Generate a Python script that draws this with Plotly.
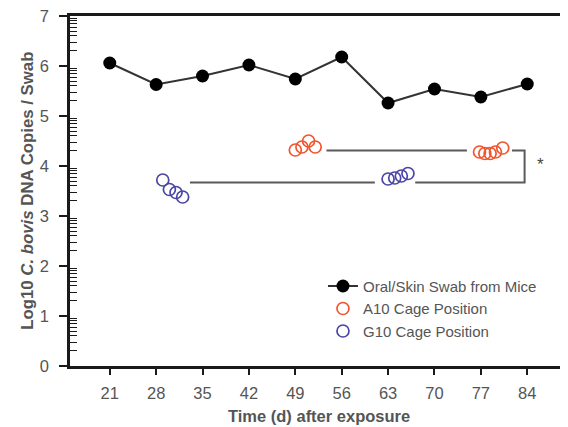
import numpy as np
import plotly.graph_objects as go

# ---- data ----
days = [21, 28, 35, 42, 49, 56, 63, 70, 77, 84]
swab_log10 = [6.06, 5.63, 5.80, 6.02, 5.74, 6.18, 5.26, 5.54, 5.38, 5.64]

a10_days = [49, 50, 51, 52, None, 76.8, 77.6, 78.4, 79.2, 80.3]
a10_log10 = [4.32, 4.38, 4.50, 4.38, None, 4.28, 4.25, 4.25, 4.28, 4.36]

g10_days = [29, 30, 31, 32, None, 63, 64, 65, 66]
g10_log10 = [3.72, 3.53, 3.47, 3.38, None, 3.74, 3.76, 3.80, 3.85]

bracket_x = [53.7, 74.9, None, 81.7, 83.6, 83.6, 67.1, None, 61.0, 33.1]
bracket_y = [4.31, 4.31, None, 4.31, 4.31, 3.67, 3.67, None, 3.67, 3.67]

x_ticks = [21, 28, 35, 42, 49, 56, 63, 70, 77, 84]
y_ticks = [0, 1, 2, 3, 4, 5, 6, 7]
y_minor = [float(n + np.log10(k)) for n in range(7) for k in range(2, 10)]

FONT = "Liberation Sans, Arial, sans-serif"
GRAY = "#555555"
RED = "#f0552f"
BLUE = "#4a45a6"

fig = go.Figure()

fig.add_trace(go.Scatter(
    x=bracket_x, y=bracket_y, mode="lines",
    line=dict(color="#5a5a5a", width=2), showlegend=False, hoverinfo="skip"))

fig.add_trace(go.Scatter(
    x=days, y=swab_log10, mode="lines+markers", name="Oral/Skin Swab from Mice",
    line=dict(color="#333333", width=2),
    marker=dict(color="black", size=13, symbol="circle"),
    legendgroup="a"))

fig.add_trace(go.Scatter(
    x=a10_days, y=a10_log10, mode="markers", name="A10 Cage Position",
    marker=dict(symbol="circle-open", size=12, color=RED, line=dict(width=1.7, color=RED)),
    legendgroup="b"))

fig.add_trace(go.Scatter(
    x=g10_days, y=g10_log10, mode="markers", name="G10 Cage Position",
    marker=dict(symbol="circle-open", size=12, color=BLUE, line=dict(width=1.7, color=BLUE)),
    legendgroup="c"))

fig.add_annotation(x=86, y=4.03, text="*", showarrow=False,
                   font=dict(family=FONT, size=17, color="#444444"))

# axis titles as paper annotations
fig.add_annotation(xref="paper", yref="paper", x=0.5, y=-0.143, xanchor="center",
                   yanchor="middle", showarrow=False,
                   text="<b>Time (d) after exposure</b>",
                   font=dict(family=FONT, size=16.5, color=GRAY))
fig.add_annotation(xref="paper", yref="paper", x=-0.087, y=0.5, xanchor="center",
                   yanchor="middle", showarrow=False, textangle=-90,
                   text="<b>Log10 <i>C. bovis</i> DNA Copies / Swab</b>",
                   font=dict(family=FONT, size=16.8, color=GRAY))

# page body has an 8px margin, so the figure is 8px smaller on each axis
fig.update_layout(
    width=560, height=419,
    margin=dict(l=62, r=1, t=8, b=61),
    paper_bgcolor="white", plot_bgcolor="white",
    font=dict(family=FONT, color=GRAY),
    legend=dict(x=0.509, y=0.275, xanchor="left", yanchor="top",
                bgcolor="rgba(0,0,0,0)", font=dict(family=FONT, size=15, color=GRAY),
                traceorder="grouped", tracegroupgap=0, itemwidth=30),
)

fig.update_xaxes(
    range=[15, 90], tickmode="array", tickvals=x_ticks, ticktext=[str(v) for v in x_ticks],
    showgrid=False, zeroline=False, automargin=False,
    showline=True, linecolor="#1a1a1a", linewidth=2.5, mirror=True,
    ticks="outside", ticklen=6, tickwidth=2, tickcolor="#1a1a1a",
    tickfont=dict(family=FONT, size=16.5, color=GRAY), ticklabelstandoff=4,
)

fig.update_yaxes(
    range=[0, 7], tickmode="array", tickvals=y_ticks, ticktext=[str(v) for v in y_ticks],
    showgrid=False, zeroline=False, automargin=False, ticklabeloverflow="allow",
    showline=True, linecolor="#1a1a1a", linewidth=2.5, mirror=True,
    ticks="outside", ticklen=8, tickwidth=2, tickcolor="#1a1a1a",
    tickfont=dict(family=FONT, size=16.5, color=GRAY), ticklabelstandoff=7,
    minor=dict(tickmode="array", tickvals=y_minor, ticks="inside", ticklen=7,
               tickwidth=1.2, tickcolor="#1a1a1a", showgrid=False),
)

fig.write_html("out.html")
